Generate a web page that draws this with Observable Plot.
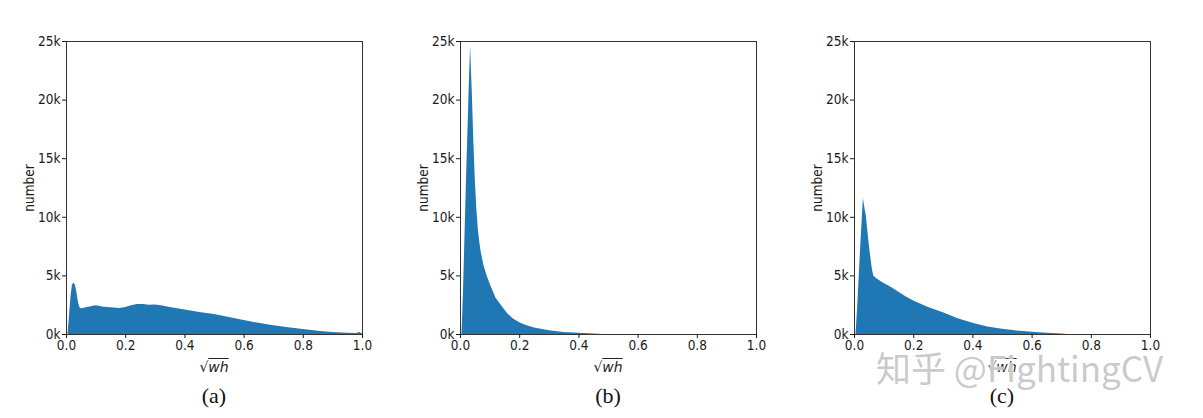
<!DOCTYPE html>
<html><head><meta charset="utf-8">
<script src="https://cdn.jsdelivr.net/npm/d3@7"></script>
<script src="https://cdn.jsdelivr.net/npm/@observablehq/plot@0.6"></script>
<style>
body{margin:0;background:#fff;}
#wrap{position:relative;width:1203px;height:418px;overflow:hidden;background:#fff;}
.panel{position:absolute;top:0;}
.xl{position:absolute;top:359px;width:80px;margin-left:-40px;text-align:center;font-family:"DejaVu Sans",sans-serif;font-size:14px;color:#222;}
.xl i{text-decoration:overline;}
.cap{position:absolute;top:383px;width:60px;margin-left:-30px;text-align:center;font-family:"Liberation Serif",serif;font-size:22px;color:#111;}
.wm{position:absolute;left:876px;top:341px;font-family:"Noto Sans CJK SC",sans-serif;font-size:35px;color:rgba(150,150,150,0.5);white-space:nowrap;text-shadow:0 0 2px #fff,0 0 2px #fff;}
</style></head><body><div id="wrap"></div>
<script>
// x positions (sqrt(wh)) and counts for each panel
const aX = [0.005,0.01,0.015,0.02,0.025,0.03,0.035,0.04,0.045,0.05,0.06,0.07,0.08,0.09,0.1,0.11,0.12,0.14,0.16,0.18,0.2,0.22,0.24,0.26,0.28,0.3,0.32,0.35,0.4,0.45,0.5,0.55,0.6,0.65,0.7,0.75,0.8,0.85,0.9,0.95,0.98,0.99,1.0];
const aY = [0,1500,3200,4200,4400,4200,3600,2800,2300,2200,2250,2300,2350,2400,2450,2400,2350,2300,2270,2220,2300,2450,2550,2550,2500,2520,2450,2300,2080,1880,1700,1450,1200,950,750,570,420,280,180,100,80,180,50];
const bX = [0.005,0.01,0.02,0.03,0.034,0.04,0.045,0.05,0.055,0.06,0.065,0.07,0.08,0.09,0.1,0.12,0.14,0.16,0.18,0.2,0.22,0.25,0.3,0.35,0.4,0.45,0.48,0.5];
const bY = [0,3500,13000,21500,24600,20500,16500,13200,10800,9000,7900,7000,5800,5000,4300,3100,2400,1750,1300,1000,780,550,320,180,100,40,10,0];
const cX = [0.005,0.01,0.02,0.03,0.035,0.04,0.05,0.06,0.065,0.075,0.1,0.125,0.15,0.175,0.2,0.25,0.3,0.35,0.4,0.45,0.5,0.55,0.6,0.65,0.7,0.72,0.74];
const cY = [0,2000,7000,11600,10800,10100,7600,5600,5000,4750,4350,4000,3600,3200,2850,2300,1850,1350,950,650,450,300,200,100,40,10,0];
const xTicks = [0,0.2,0.4,0.6,0.8,1.0];
const yTicks = [0,5000,10000,15000,20000,25000];
const captions = ["(a)","(b)","(c)"];

const panels = [
  {xs:aX, ys:aY, left:0, ml:66},
  {xs:bX, ys:bY, left:400, ml:60},
  {xs:cX, ys:cY, left:800, ml:54}
];
const wrap = document.getElementById("wrap");
const W = 400, PW = 296;
panels.forEach((p,i)=>{
  const data = p.xs.map((x,j)=>({x, y:p.ys[j]}));
  const chart = Plot.plot({
    width:W, height:360,
    marginLeft:p.ml, marginRight:W-p.ml-PW, marginTop:41, marginBottom:26,
    style:{fontFamily:'"DejaVu Sans Condensed","DejaVu Sans",sans-serif', fontSize:"13.5px", color:"#1a1a1a", background:"transparent", fontStretch:"condensed"},
    x:{domain:[0,1]},
    y:{domain:[0,25000]},
    marks:[
      Plot.areaY(data,{x:"x", y:"y", fill:"#1f77b4"}),
      Plot.frame({stroke:"#333", strokeWidth:1}),
      Plot.axisX({ticks:xTicks, tickFormat:d=>d.toFixed(1), tickSize:4, tickPadding:2, label:null}),
      Plot.axisY({ticks:yTicks, tickFormat:d=>(d/1000)+"k", tickSize:4, tickPadding:2, label:"number", labelAnchor:"center", labelArrow:"none", labelOffset:42})
    ]
  });
  const div = document.createElement("div");
  div.className = "panel";
  div.style.left = p.left + "px";
  div.appendChild(chart);
  wrap.appendChild(div);
  const cx = p.left + p.ml + PW/2;
  const xl = document.createElement("div");
  xl.className = "xl"; xl.style.left = cx + "px";
  xl.innerHTML = "√<i>wh</i>";
  wrap.appendChild(xl);
  const cap = document.createElement("div");
  cap.className = "cap"; cap.style.left = cx + "px";
  cap.textContent = captions[i];
  wrap.appendChild(cap);
});
const wm = document.createElement("div");
wm.className = "wm";
wm.textContent = "知乎 @FightingCV";
wrap.appendChild(wm);
</script>
</body></html>
